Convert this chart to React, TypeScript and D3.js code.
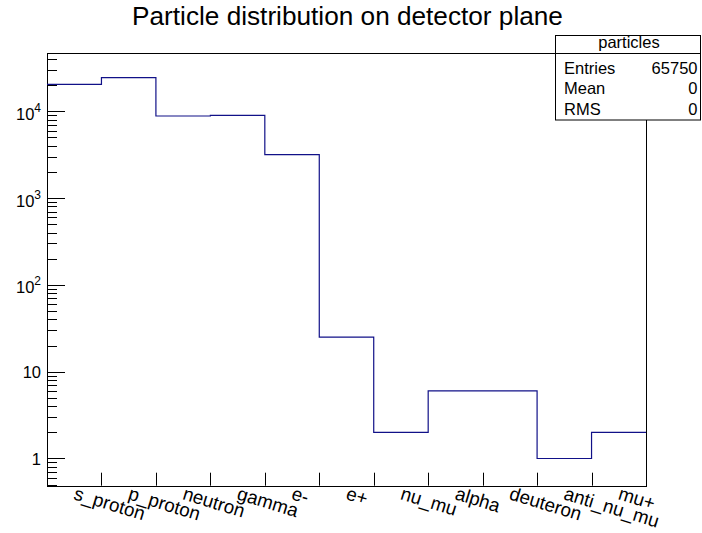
import React from "react";
import * as d3 from "d3";

const categories = ["s_proton", "p_proton", "neutron", "gamma", "e-", "e+", "nu_mu", "alpha", "deuteron", "anti_nu_mu", "mu+"];
const counts = [20420, 24340, 8810, 8980, 3158, 25, 2, 6, 6, 1, 2];
const yMajorTicks = [1, 10, 100, 1000, 10000];
const yMajorBase = ["1", "10", "10", "10", "10"];
const yMajorExp = ["", "", "2", "3", "4"];
const statsTitle = "particles";
const statsNames = ["Entries", "Mean", "RMS"];
const statsValues = ["65750", "0", "0"];
const title = "Particle distribution on detector plane";

const W = 702, H = 533;
const FONT = "'Liberation Sans', Arial, Helvetica, sans-serif";

export default function App() {
  const left = 47, right = 646, top = 52.5, bottom = 485.7;
  const x = d3.scaleLinear().domain([0, categories.length]).range([left, right]);
  const y = d3.scaleLog().domain([0.486, 47500]).range([bottom, top]);

  // step path
  const pts: [number, number][] = [];
  counts.forEach((v, i) => {
    pts.push([x(i), y(v)]);
    pts.push([x(i + 1), y(v)]);
  });
  const path = d3.line().x(d => d[0]).y(d => d[1])(pts) || "";

  // minor ticks
  const [d0, d1] = y.domain();
  const minors: number[] = [];
  for (let dec = 0.1; dec <= 1e5; dec *= 10) {
    for (let k = 2; k <= 9; k++) {
      const v = k * dec;
      if (v > d0 && v < d1) minors.push(v);
    }
  }

  const r = (v: number) => Math.round(v) + 0.5;

  return (
    <svg width={W} height={H} style={{ position: "absolute", left: 0, top: 0, background: "#fff" }} fontFamily={FONT}>
      <rect x={0} y={0} width={W} height={H} fill="#fff" />
      <text x={347.5} y={25} textAnchor="middle" fontSize={26.2} fill="#000">{title}</text>

      {/* frame */}
      <rect x={r(left) } y={r(top)} width={Math.round(right) - Math.round(left)} height={Math.round(bottom) - Math.round(top)} fill="none" stroke="#000" strokeWidth={1} />

      {/* y ticks */}
      {yMajorTicks.map((v, i) => (
        <g key={"ym" + i}>
          <line x1={left} x2={left + 18} y1={r(y(v))} y2={r(y(v))} stroke="#000" />
          <text x={41} y={y(v) + (yMajorExp[i] ? 8.5 : 6.3)} textAnchor="end" fontSize={16.5} fill="#000">
            <tspan>{yMajorBase[i]}</tspan>
            {yMajorExp[i] ? <tspan dy={-8} fontSize={12}>{yMajorExp[i]}</tspan> : null}
          </text>
        </g>
      ))}
      {minors.map((v, i) => (
        <line key={"yn" + i} x1={left} x2={left + 10} y1={r(y(v))} y2={r(y(v))} stroke="#000" />
      ))}

      {/* x ticks */}
      {d3.range(1, categories.length).map(i => (
        <line key={"xt" + i} x1={r(x(i))} x2={r(x(i))} y1={bottom} y2={bottom - 13} stroke="#000" />
      ))}
      {categories.map((c, i) => {
        const cx = x(i + 0.5) - 1.5;
        const cy = 499;
        return (
          <text key={"xl" + i} x={cx} y={cy} fontSize={18.8} fill="#000" transform={`rotate(17 ${cx} ${cy})`}>{c}</text>
        );
      })}

      {/* histogram */}
      <path d={path} fill="none" stroke="#111188" strokeWidth={1.2} />

      {/* stats box */}
      <rect x={555.5} y={35.5} width={145} height={84.5} fill="#fff" stroke="#000" />
      <line x1={555.5} x2={700.5} y1={53.5} y2={53.5} stroke="#000" />
      <text x={629} y={48} textAnchor="middle" fontSize={16.5} fill="#000">{statsTitle}</text>
      {statsNames.map((n, i) => (
        <g key={"st" + i}>
          <text x={564} y={73.5 + i * 20.5} fontSize={16.5} fill="#000">{n}</text>
          <text x={697.5} y={73.5 + i * 20.5} textAnchor="end" fontSize={16.5} fill="#000">{statsValues[i]}</text>
        </g>
      ))}
    </svg>
  );
}
